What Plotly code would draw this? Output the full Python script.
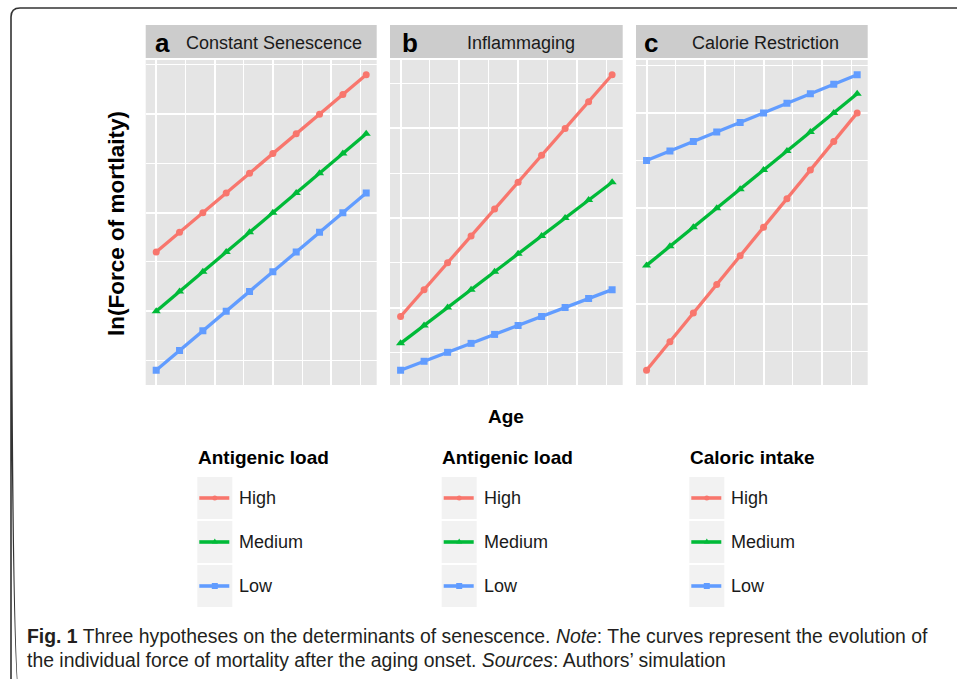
import plotly.graph_objects as go

W, H = 957, 679

# ---------------- data ----------------
age = [0, 1, 2, 3, 4, 5, 6, 7, 8, 9]
levels = ["High", "Medium", "Low"]

panel_a = {
    "High":   [3.2, 3.6, 4.0, 4.4, 4.8, 5.2, 5.6, 6.0, 6.4, 6.8],
    "Medium": [2.0, 2.4, 2.8, 3.2, 3.6, 4.0, 4.4, 4.8, 5.2, 5.6],
    "Low":    [0.8, 1.2, 1.6, 2.0, 2.4, 2.8, 3.2, 3.6, 4.0, 4.4],
}
panel_b = {
    "High":   [1.8, 2.4, 3.0, 3.6, 4.2, 4.8, 5.4, 6.0, 6.6, 7.2],
    "Medium": [1.2, 1.6, 2.0, 2.4, 2.8, 3.2, 3.6, 4.0, 4.4, 4.8],
    "Low":    [0.6, 0.8, 1.0, 1.2, 1.4, 1.6, 1.8, 2.0, 2.2, 2.4],
}
panel_c = {
    "High":   [0.6, 1.2, 1.8, 2.4, 3.0, 3.6, 4.2, 4.8, 5.4, 6.0],
    "Medium": [2.8, 3.2, 3.6, 4.0, 4.4, 4.8, 5.2, 5.6, 6.0, 6.4],
    "Low":    [5.0, 5.2, 5.4, 5.6, 5.8, 6.0, 6.2, 6.4, 6.6, 6.8],
}
panels = [panel_a, panel_b, panel_c]
panel_letters = ["a", "b", "c"]
panel_titles = ["Constant Senescence", "Inflammaging", "Calorie Restriction"]
legend_titles = ["Antigenic load", "Antigenic load", "Caloric intake"]
x_major = [0, 2.5, 5, 7.5]
x_minor = [1.25, 3.75, 6.25, 8.75]
y_major = [2, 4, 6]
y_minor = [1, 3, 5, 7]

# ---------------- style ----------------
colors = {"High": "#F8766D", "Medium": "#00BA38", "Low": "#619CFF"}
symbols = {"High": "circle", "Medium": "triangle-up", "Low": "square"}
msize = {"High": 7, "Medium": 8, "Low": 7}

def px(x):
    return x / W

def py(y):
    return 1 - y / H

panel_x = [(145.7, 376.7), (390.0, 622.7), (636.0, 867.7)]
panel_y = (60.0, 385.0)
strip_y = (25.0, 58.0)
yranges = [[0.5, 7.1], [0.27, 7.53], [0.29, 7.11]]

fig = go.Figure()
layout = dict(
    width=W, height=H, margin=dict(l=0, r=0, t=0, b=0),
    paper_bgcolor="white", plot_bgcolor="#E5E5E5", showlegend=False,
)

for i, pdata in enumerate(panels):
    sfx = "" if i == 0 else str(i + 1)
    for lv in levels:
        fig.add_trace(go.Scatter(
            x=age, y=pdata[lv], mode="lines+markers", name=lv,
            line=dict(color=colors[lv], width=3.3),
            marker=dict(symbol=symbols[lv], size=msize[lv], color=colors[lv]),
            xaxis="x" + sfx, yaxis="y" + sfx,
        ))
    layout["xaxis" + sfx] = dict(
        domain=[px(panel_x[i][0]), px(panel_x[i][1])], range=[-0.45, 9.45],
        tickvals=x_major, showticklabels=False, ticks="", showline=False,
        zeroline=False, gridcolor="white", gridwidth=1.6,
        minor=dict(tickvals=x_minor, showgrid=True, gridcolor="white", gridwidth=0.7, ticks=""),
        anchor="y" + sfx, fixedrange=True,
    )
    layout["yaxis" + sfx] = dict(
        domain=[py(panel_y[1]), py(panel_y[0])], range=yranges[i],
        tickvals=y_major, showticklabels=False, ticks="", showline=False,
        zeroline=False, gridcolor="white", gridwidth=1.6,
        minor=dict(tickvals=y_minor, showgrid=True, gridcolor="white", gridwidth=0.7, ticks=""),
        anchor="x" + sfx, fixedrange=True,
    )

shapes = []
annotations = []
font_main = "Liberation Sans, Arial, sans-serif"

# strips
letter_x = [162.7, 409.5, 651.0]
title_x = [274.0, 520.5, 765.0]
for i in range(3):
    shapes.append(dict(type="rect", xref="paper", yref="paper",
                       x0=px(panel_x[i][0]), x1=px(panel_x[i][1]),
                       y0=py(strip_y[1]), y1=py(strip_y[0]),
                       fillcolor="#CCCCCC", line=dict(width=0), layer="below"))
    annotations.append(dict(xref="paper", yref="paper", x=px(letter_x[i]), y=py(43),
                            text="<b>" + panel_letters[i] + "</b>", showarrow=False,
                            xanchor="center", yanchor="middle",
                            font=dict(family=font_main, size=26, color="black")))
    annotations.append(dict(xref="paper", yref="paper", x=px(title_x[i]), y=py(43),
                            text=panel_titles[i], showarrow=False,
                            xanchor="center", yanchor="middle",
                            font=dict(family=font_main, size=18, color="#1A1A1A")))

# axis titles
annotations.append(dict(xref="paper", yref="paper", x=px(506), y=py(416), text="<b>Age</b>",
                        showarrow=False, xanchor="center", yanchor="middle",
                        font=dict(family=font_main, size=19, color="black")))
annotations.append(dict(xref="paper", yref="paper", x=px(117), y=py(224),
                        text="<b>ln(Force of mortlaity)</b>", textangle=-90,
                        showarrow=False, xanchor="center", yanchor="middle",
                        font=dict(family=font_main, size=22.5, color="black")))

# legends (drawn manually)
leg_x0 = [197.3, 441.7, 689.3]
rows = [(477.0, 519.0), (521.0, 563.0), (565.0, 607.0)]
for i in range(3):
    x0 = leg_x0[i]
    annotations.append(dict(xref="paper", yref="paper", x=px(x0 - 1.5), y=py(457.5),
                            text="<b>" + legend_titles[i] + "</b>", showarrow=False,
                            xanchor="left", yanchor="middle",
                            font=dict(family=font_main, size=19, color="black")))
    for (ya, yb), lv in zip(rows, levels):
        yc = (ya + yb) / 2
        shapes.append(dict(type="rect", xref="paper", yref="paper",
                           x0=px(x0), x1=px(x0 + 35), y0=py(yb), y1=py(ya),
                           fillcolor="#F2F2F2", line=dict(width=0)))
        shapes.append(dict(type="line", xref="paper", yref="paper",
                           x0=px(x0 + 2), x1=px(x0 + 32), y0=py(yc), y1=py(yc),
                           line=dict(color=colors[lv], width=3.6)))
        cx = x0 + 17.5
        if lv == "High":
            shapes.append(dict(type="circle", xref="paper", yref="paper",
                               x0=px(cx - 2.5), x1=px(cx + 2.5), y0=py(yc + 2.5), y1=py(yc - 2.5),
                               fillcolor=colors[lv], line=dict(width=0)))
        elif lv == "Medium":
            path = "M {:.5f},{:.5f} L {:.5f},{:.5f} L {:.5f},{:.5f} Z".format(
                px(cx - 3), py(yc + 1.5), px(cx + 3), py(yc + 1.5), px(cx), py(yc - 3.5))
            shapes.append(dict(type="path", xref="paper", yref="paper", path=path,
                               fillcolor=colors[lv], line=dict(width=0)))
        else:
            shapes.append(dict(type="rect", xref="paper", yref="paper",
                               x0=px(cx - 3), x1=px(cx + 3), y0=py(yc + 3), y1=py(yc - 3),
                               fillcolor=colors[lv], line=dict(width=0)))
        annotations.append(dict(xref="paper", yref="paper", x=px(x0 + 40), y=py(yc),
                                text=lv, showarrow=False, xanchor="left", yanchor="middle",
                                font=dict(family=font_main, size=18, color="#1A1A1A")))

# outer rounded frame
fx0, fy0, fx1, fy1, r = 11, 8, 975, 700, 9
frame = ("M {a},{b} L {a},{c} Q {a},{d} {e},{d} L {f},{d} L {f},{g} L {e},{g} Q {a},{g} {a},{c} Z").format(
    a=px(fx0), b=py(fy1 - r), c=py(fy0 + r), d=py(fy0), e=px(fx0 + r), f=px(fx1), g=py(fy1))
shapes.append(dict(type="path", xref="paper", yref="paper", path=frame,
                   line=dict(color="#333333", width=1.6), fillcolor="rgba(0,0,0,0)"))

# caption
cap_font = "Liberation Sans, Arial, sans-serif"
annotations.append(dict(xref="paper", yref="paper", x=px(25), y=py(636),
                        text="<b>Fig. 1</b> Three hypotheses on the determinants of senescence. <i>Note</i>: The curves represent the evolution of",
                        showarrow=False, xanchor="left", yanchor="middle",
                        font=dict(family=cap_font, size=19.4, color="#231F20")))
annotations.append(dict(xref="paper", yref="paper", x=px(25), y=py(660),
                        text="the individual force of mortality after the aging onset. <i>Sources</i>: Authors\u2019 simulation",
                        showarrow=False, xanchor="left", yanchor="middle",
                        font=dict(family=cap_font, size=19.4, color="#231F20")))

layout["shapes"] = shapes
layout["annotations"] = annotations
fig.update_layout(**layout)
fig.write_html("out.html")
